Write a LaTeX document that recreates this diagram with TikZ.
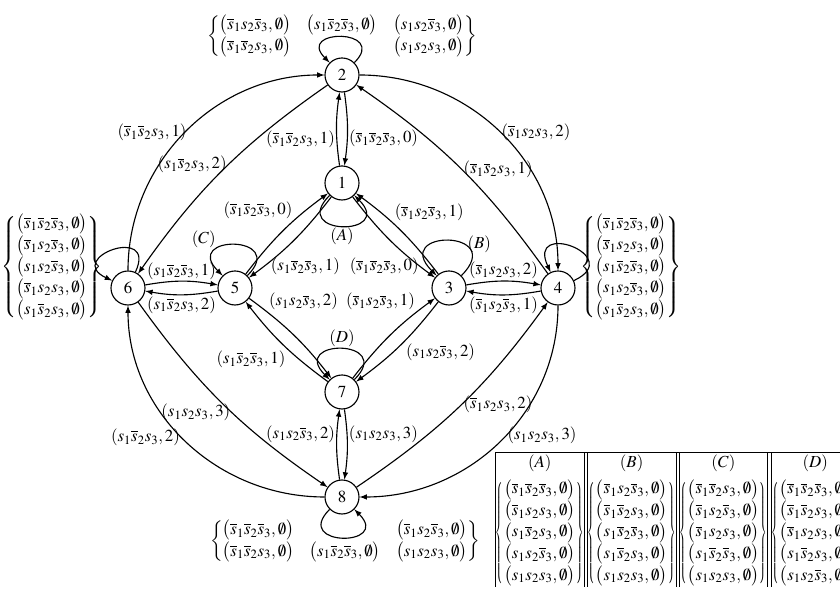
\documentclass[tikz,border=0pt,12pt]{standalone}
\usepackage{amsmath,amssymb}
\usepackage{mathptmx}
\usepackage{array}
\usepackage{graphicx}
\newcommand{\ns}[1]{\overline{s}_{#1}}
\newcommand{\ps}[1]{s_{#1}}
\newcommand{\el}[1]{\big(#1,\emptyset\big)}
\renewcommand{\arraystretch}{1.06}
% narrow braces for the table
\newsavebox{\tsetbox}
\newcommand{\tset}[1]{\sbox{\tsetbox}{$\begin{array}{@{}l@{}}#1\end{array}$}%
  \scalebox{0.5}[1]{$\left\{\vphantom{\usebox{\tsetbox}}\right.$}\usebox{\tsetbox}%
  \scalebox{0.5}[1]{$\left.\vphantom{\usebox{\tsetbox}}\right\}$}}

\begin{document}
\begin{tikzpicture}[
    state/.style={circle, draw, thick, minimum size=0.85cm, inner sep=0pt},
    tr/.style={thick, arrows={-latex}},
    lab/.style={inner sep=1pt},
]
\useasboundingbox (0,0) rectangle (21,14.875);

% states
\node[state] (n1) at (8.55,10.3) {$1$};
\node[state] (n2) at (8.55,13.0) {$2$};
\node[state] (n3) at (11.225,7.675) {$3$};
\node[state] (n4) at (13.95,7.675) {$4$};
\node[state] (n5) at (5.875,7.675) {$5$};
\node[state] (n6) at (3.2,7.675) {$6$};
\node[state] (n7) at (8.55,5.075) {$7$};
\node[state] (n8) at (8.55,2.45) {$8$};

% inner transitions
\draw[tr] (n1) to[bend left=8] node[lab, left, pos=0.35] {$(\ns1\ns2\ps3,1)$} (n2);
\draw[tr] (n2) to[bend left=8] node[lab, right, pos=0.64] {$(\ns1\ns2\ns3,0)$} (n1);
\draw[tr] (n5) to[bend left=8] node[lab, above left, pos=0.64] {$(\ns1\ns2\ns3,0)$} (n1);
\draw[tr] (n1) to[bend left=8] node[lab, anchor=west, pos=0.86, xshift=4pt] {$(\ps1\ns2\ns3,1)$} (n5);
\draw[tr] (n3) to[bend right=8] node[lab, anchor=south west, pos=0.6] {$(\ns1\ps2\ns3,1)$} (n1);
\draw[tr] (n1) to[bend right=8] node[lab, anchor=east, pos=0.86] {$(\ns1\ns2\ns3,0)$} (n3);
\draw[tr] (n3) to[bend left=10] node[lab, above] {$(\ns1\ps2\ps3,2)$} (n4);
\draw[tr] (n4) to[bend left=10] node[lab, below] {$(\ns1\ps2\ns3,1)$} (n3);
\draw[tr] (n6) to[bend left=10] node[lab, above] {$(\ps1\ns2\ns3,1)$} (n5);
\draw[tr] (n5) to[bend left=10] node[lab, below] {$(\ps1\ns2\ps3,2)$} (n6);
\draw[tr] (n5) to[bend left=8] node[lab, anchor=south west, pos=0.18] {$(\ps1\ps2\ns3,2)$} (n7);
\draw[tr] (n7) to[bend left=8] node[lab, anchor=north east, pos=0.45] {$(\ps1\ns2\ns3,1)$} (n5);
\draw[tr] (n7) to[bend left=8] node[lab, anchor=south east, pos=0.82] {$(\ns1\ps2\ns3,1)$} (n3);
\draw[tr] (n3) to[bend left=8] node[lab, anchor=north west, pos=0.45] {$(\ps1\ps2\ns3,2)$} (n7);
\draw[tr] (n8) to[bend left=8] node[lab, left, pos=0.66] {$(\ps1\ps2\ns3,2)$} (n7);
\draw[tr] (n7) to[bend left=8] node[lab, right, pos=0.34] {$(\ps1\ps2\ps3,3)$} (n8);

% outer transitions
\draw[tr] (n6) to[out=90,in=180] node[lab, anchor=east, pos=0.5, xshift=2pt] {$(\ns1\ns2\ps3,1)$} (n2);
\draw[tr] (n2) to[bend right=10] node[lab, anchor=east, pos=0.47] {$(\ps1\ns2\ps3,2)$} (n6);
\draw[tr] (n2) to[out=0,in=90] node[lab, anchor=west, pos=0.5] {$(\ns1\ps2\ps3,2)$} (n4);
\draw[tr] (n4) to[bend right=10] node[lab, anchor=west, pos=0.5] {$(\ns1\ns2\ps3,1)$} (n2);
\draw[tr] (n8) to[out=180,in=-90] node[lab, anchor=east, pos=0.52] {$(\ps1\ns2\ps3,2)$} (n6);
\draw[tr] (n6) to[bend right=10] node[lab, anchor=east, pos=0.55] {$(\ps1\ps2\ps3,3)$} (n8);
\draw[tr] (n4) to[out=-90,in=0] node[lab, anchor=west, pos=0.47] {$(\ps1\ps2\ps3,3)$} (n8);
\draw[tr] (n8) to[bend right=10] node[lab, anchor=west, pos=0.5] {$(\ns1\ps2\ps3,2)$} (n4);

% self loops
\draw[tr] (n2) to[out=45,in=135,looseness=5] (n2);
\draw[tr] (n1) to[out=-135,in=-45,looseness=6] node[lab, below] {$(A)$} (n1);
\draw[tr] (n3) to[out=45,in=135,looseness=6.8] node[lab, anchor=west, pos=0.33] {$(B)$} (n3);
\draw[tr] (n5) to[out=45,in=135,looseness=6] node[lab, anchor=south east, pos=0.7] {$(C)$} (n5);
\draw[tr] (n7) to[out=45,in=135,looseness=6] node[lab, above] {$(D)$} (n7);
\draw[tr] (n6) to[out=65,in=155,looseness=5.5] (n6);
\draw[tr] (n4) to[out=25,in=115,looseness=6] (n4);
\draw[tr] (n8) to[out=-135,in=-45,looseness=5.5] (n8);

% sets
\node (set2) at (8.55,13.98) {$\left\{\begin{array}{@{}l@{\hspace{11pt}}l@{\hspace{11pt}}l@{}}
  \el{\ns1\ps2\ns3} & \el{\ps1\ns2\ns3} & \el{\ps1\ps2\ns3}\\
  \el{\ns1\ns2\ps3} & & \el{\ps1\ps2\ps3}
  \end{array}\right\}$};
\node (set8) at (8.625,1.35) {$\left\{\begin{array}{@{}l@{\hspace{11pt}}l@{\hspace{11pt}}l@{}}
  \el{\ns1\ns2\ns3} & & \el{\ns1\ps2\ns3}\\
  \el{\ns1\ns2\ps3} & \el{\ps1\ns2\ns3} & \el{\ps1\ps2\ps3}
  \end{array}\right\}$};
\node (set6) at (1.3,8.2) {$\left\{\begin{array}{@{}l@{}}
  \el{\ns1\ns2\ns3}\\ \el{\ns1\ps2\ns3}\\ \el{\ps1\ps2\ns3}\\ \el{\ns1\ps2\ps3}\\ \el{\ps1\ns2\ps3}
  \end{array}\right\}$};
\node (set4) at (15.775,8.2) {$\left\{\begin{array}{@{}l@{}}
  \el{\ns1\ns2\ns3}\\ \el{\ns1\ps2\ps3}\\ \el{\ps1\ns2\ns3}\\ \el{\ps1\ps2\ns3}\\ \el{\ps1\ns2\ps3}
  \end{array}\right\}$};

% table of the loop sets
\node[anchor=north west, inner sep=0pt] (tab) at (12.375,3.575) {\setlength{\tabcolsep}{0pt}%
  \begin{tabular}{|c||c||c||c|}
  \hline
  $(A)$ & $(B)$ & $(C)$ & $(D)$\\[3pt]
  \tset{\el{\ns1\ns2\ns3}\\ \el{\ns1\ps2\ps3}\\ \el{\ps1\ns2\ps3}\\ \el{\ps1\ps2\ns3}\\ \el{\ps1\ps2\ps3}} &
  \tset{\el{\ns1\ps2\ns3}\\ \el{\ns1\ns2\ps3}\\ \el{\ps1\ns2\ns3}\\ \el{\ps1\ns2\ps3}\\ \el{\ps1\ps2\ps3}} &
  \tset{\el{\ns1\ns2\ps3}\\ \el{\ns1\ps2\ns3}\\ \el{\ns1\ps2\ps3}\\ \el{\ps1\ns2\ns3}\\ \el{\ps1\ps2\ps3}} &
  \tset{\el{\ns1\ns2\ns3}\\ \el{\ns1\ns2\ps3}\\ \el{\ns1\ps2\ps3}\\ \el{\ps1\ns2\ps3}\\ \el{\ps1\ps2\ns3}}\\[14pt]
  \end{tabular}};
\end{tikzpicture}
\end{document}
